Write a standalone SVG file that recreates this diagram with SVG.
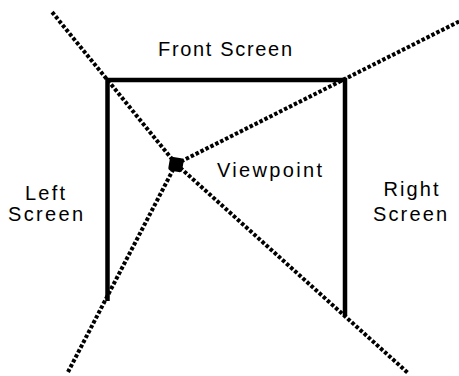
<svg xmlns="http://www.w3.org/2000/svg" width="459" height="376" viewBox="0 0 459 376">
<style>
.bg{fill:#ffffff}
.ray{stroke:#000;stroke-width:4;stroke-dasharray:3.5 2;fill:none}
.screen{stroke:#000;stroke-width:4.5;fill:none;stroke-linejoin:miter}
.lbl{font-family:"Liberation Sans",Arial,sans-serif;font-size:20px;fill:#000;text-anchor:middle}
</style>
<rect class="bg" x="0" y="0" width="459" height="376"/>
<g id="connectors">
<line class="ray" x1="176" y1="164" x2="52" y2="12"/>
<line class="ray" x1="176" y1="164" x2="462" y2="20"/>
<line class="ray" x1="176" y1="164" x2="68" y2="372"/>
<line class="ray" x1="176" y1="164" x2="408" y2="373"/>
</g>
<g id="screens">
<polyline class="screen" points="107.5,301 107.5,80 345,80 345,316"/>
</g>
<g id="front-screen">
<text class="lbl" x="225" y="56" textLength="134" lengthAdjust="spacing">Front Screen</text>
</g>
<g id="left-screen">
<text class="lbl" x="45" y="200" textLength="40" lengthAdjust="spacing">Left</text>
<text class="lbl" x="45.5" y="221" textLength="75" lengthAdjust="spacing">Screen</text>
</g>
<g id="right-screen">
<text class="lbl" x="411" y="196" textLength="55" lengthAdjust="spacing">Right</text>
<text class="lbl" x="410" y="221" textLength="74" lengthAdjust="spacing">Screen</text>
</g>
<g id="viewpoint">
<rect x="169" y="157.5" width="14" height="14" rx="3" fill="#000" transform="rotate(10 176 164.5)"/>
<text class="lbl" x="269.5" y="177" textLength="105" lengthAdjust="spacing">Viewpoint</text>
</g>
</svg>
